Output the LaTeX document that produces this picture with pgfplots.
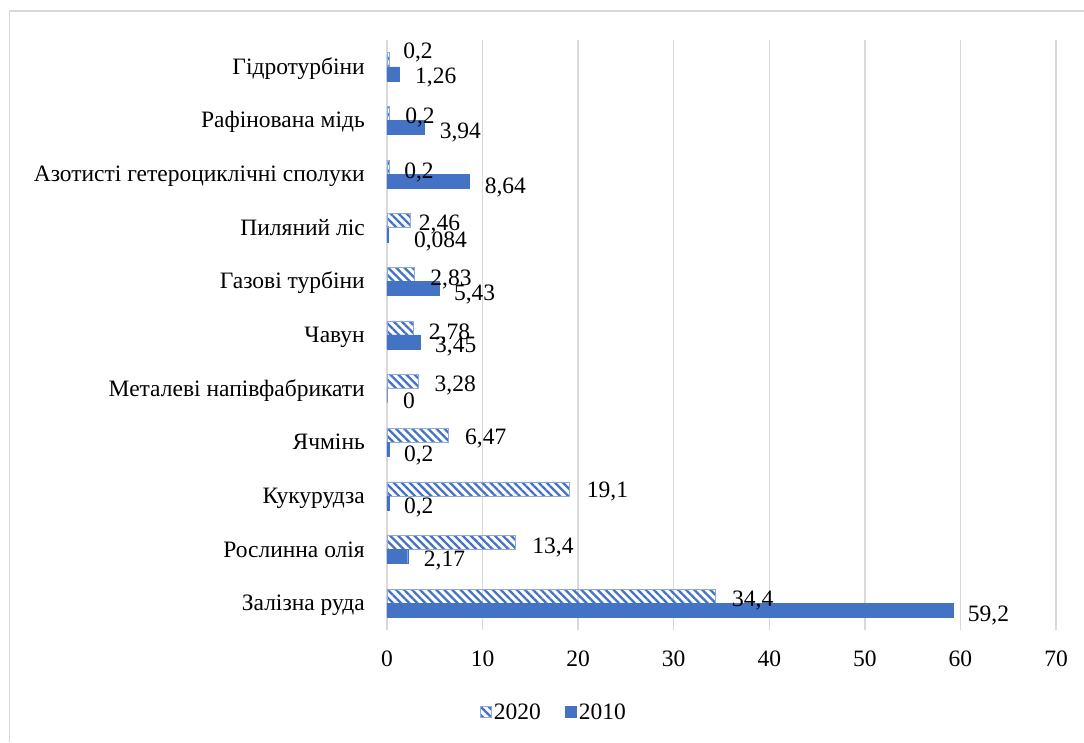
\documentclass[border=0pt]{standalone}
\usepackage{fontspec}
\setmainfont{Liberation Serif}
\usepackage{pgfplots}
\pgfplotsset{compat=1.18}
\usepackage{pgfplotstable}
\usetikzlibrary{patterns.meta}
\definecolor{barblue}{HTML}{4472C4}
\definecolor{edgeblue}{HTML}{8FAADC}
\definecolor{gridgray}{HTML}{D9D9D9}

% 2020 series: y = category index (0 = bottom), x = value, lab = label, dx/dy = label offsets (pt)
\pgfplotstableread{
y x lab dx dy
0 34.4 34,4 16 -1
1 13.4 13,4 17 -2
2 19.1 19,1 17 0
3 6.47 6,47 16 0
4 3.28 3,28 16 -1
5 2.78 2,78 15 -2
6 2.83 2,83 16 -2
7 2.46 2,46 8 -1
8 0.2 0,2 15 -2
9 0.2 0,2 16 -1
10 0.2 0,2 14 10
}\tabA

% 2010 series
\pgfplotstableread{
y x lab dx dy
0 59.2 59,2 15 -2
1 2.17 2,17 16 -1
2 0.2 0,2 15 -2
3 0.2 0,2 15 -3
4 0 0 16 -2
5 3.45 3,45 15 -2
6 5.43 5,43 15 -3
7 0.084 0,084 26 -4
8 8.64 8,64 15 -3
9 3.94 3,94 15 -2
10 1.26 1,26 16 -1
}\tabB

\newcommand{\chartfont}{\fontsize{23.5}{28}\selectfont}

\begin{document}
\begin{tikzpicture}[x=1pt,y=1pt]
\path[use as bounding box] (0,0) rectangle (1084,742);
\draw[gridgray, line width=1.6pt] (9.5,0) -- (9.5,731) -- (1084,731);
\begin{axis}[
  at={(387pt,112pt)}, anchor=south west,
  scale only axis, width=669pt, height=590pt,
  xbar, bar width=14pt,
  xmin=0, xmax=70, ymin=-0.5, ymax=10.5,
  xtick={0,10,20,30,40,50,60,70},
  xticklabels={0,10,20,30,40,50,60,70},
  ytick={0,1,2,3,4,5,6,7,8,9,10},
  yticklabels={Залізна руда, Рослинна олія, Кукурудза, Ячмінь, Металеві напівфабрикати, Чавун, Газові турбіни, Пиляний ліс, Азотисті гетероциклічні сполуки, Рафінована мідь, Гідротурбіни},
  xmajorgrids, grid style={gridgray, line width=1.3pt},
  axis line style={draw=none},
  major tick length=0pt,
  tick style={draw=none},
  tick label style={font=\chartfont},
  xticklabel style={anchor=north, inner sep=0pt, yshift=-21pt},
  yticklabel style={anchor=east, inner sep=0pt, xshift=-22pt, yshift=-5pt, text height=0.7em, text depth=0.2em},
  legend columns=2,
  legend cell align=left,
  legend style={at={(axis description cs:0.2496,-0.139)}, anchor=center, draw=none, fill=none, font=\chartfont,
    /tikz/every even column/.append style={column sep=22pt}, nodes={inner sep=2pt}},
  legend image code/.code={\draw[#1, line width=0.8pt] (0pt,-5.5pt) rectangle (11pt,5.5pt);},
  point meta=explicit symbolic,
  visualization depends on={\thisrow{dx} \as \dx},
  visualization depends on={\thisrow{dy} \as \dy},
  nodes near coords,
  nodes near coords style={anchor=west, inner sep=0pt, xshift=\dx pt, yshift=\dy pt, yshift=-3pt, font=\chartfont, text=black},
]
\addplot[bar shift=7pt, draw=edgeblue, line width=0.8pt,
  pattern={Lines[angle=-45, distance=5.7pt, line width=2.3pt]}, pattern color=barblue]
  table[x=x, y=y, meta=lab] {\tabA};
\addlegendentry{2020}
\addplot[bar shift=-7pt, draw=barblue, fill=barblue, line width=0.4pt]
  table[x=x, y=y, meta=lab] {\tabB};
\addlegendentry{2010}
\end{axis}
\end{tikzpicture}
\end{document}
